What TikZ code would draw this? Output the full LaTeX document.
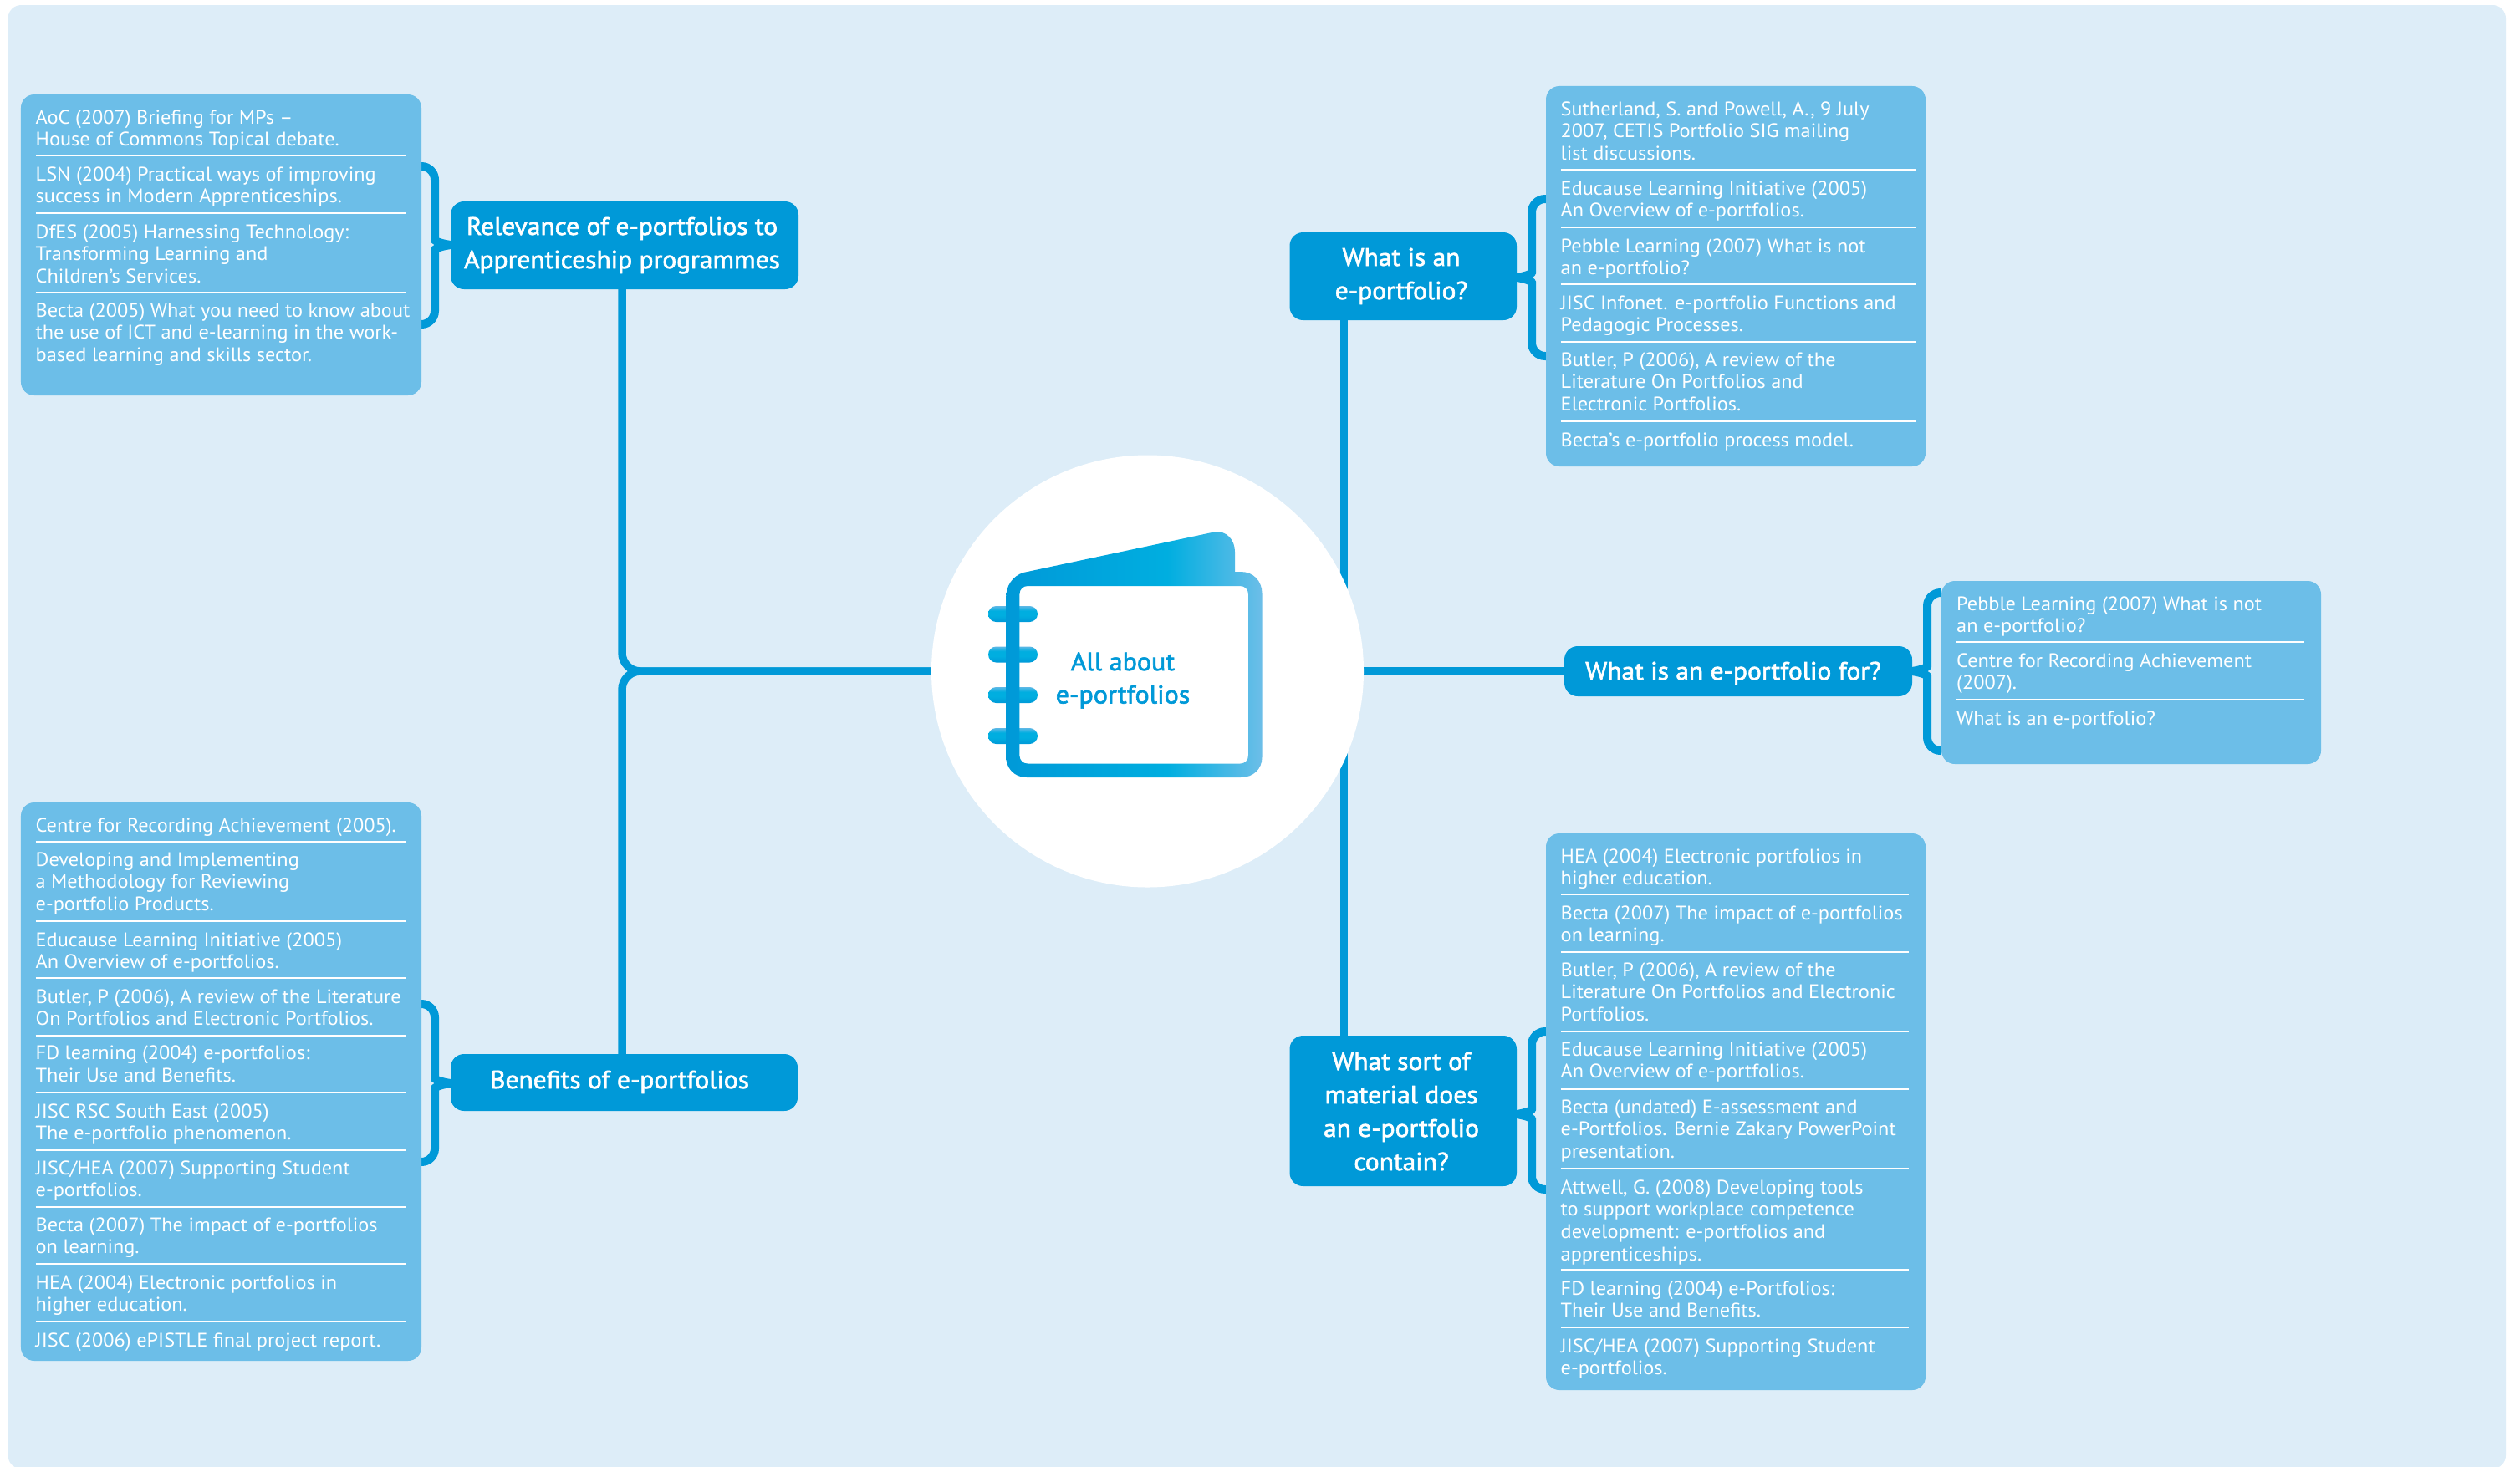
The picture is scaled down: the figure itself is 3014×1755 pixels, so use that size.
\documentclass[tikz,border=0pt]{standalone}
\usepackage{fontspec}
\setmainfont{PT Sans}[FakeStretch=1.035]
\newfontfamily\titlefont{PT Sans}[FakeStretch=1.05,FakeBold=2]
\usetikzlibrary{backgrounds}
\definecolor{pagebg}{HTML}{DDEDF8}
\definecolor{refblue}{HTML}{6CBEE8}
\definecolor{mainblue}{HTML}{0099D8}
\definecolor{midblue}{HTML}{00AEE0}
\definecolor{ringlight}{HTML}{5CB8E6}
\pgfdeclarehorizontalshading{bookshade}{100bp}{color(0bp)=(mainblue);color(25bp)=(mainblue);color(56.5bp)=(midblue);color(75bp)=(refblue);color(100bp)=(refblue)}
\pgfdeclareverticalshading{ringshade}{100bp}{color(0bp)=(mainblue);color(25bp)=(mainblue);color(45bp)=(midblue);color(60bp)=(midblue);color(75bp)=(ringlight);color(100bp)=(ringlight)}
\pgfdeclarelayer{pagelayer}
\pgfdeclarelayer{connlayer}
\pgfsetlayers{pagelayer,connlayer,main}
\tikzset{
  refbox/.style={rectangle,rounded corners=16bp,fill=refblue,inner sep=0pt},
  titlebox/.style={rectangle,rounded corners=16bp,fill=mainblue,inner sep=0pt},
  entry/.style={anchor=base west,inner sep=0pt,text=white,font=\fontsize{23.5bp}{26.9bp}\selectfont},
  titletext/.style={anchor=base,inner sep=0pt,text=white,font=\titlefont\fontsize{30bp}{40bp}\selectfont},
  booktext/.style={anchor=base,inner sep=0pt,text=mainblue,font=\titlefont\fontsize{30.5bp}{39.5bp}\selectfont},
  sepline/.style={draw=white,line width=2bp},
  trunk/.style={draw=mainblue,line width=9.5bp,rounded corners=22bp},
  brace/.style={draw=mainblue,line width=10bp,line cap=butt,rounded corners=16bp},
  ring/.style={shading=ringshade,rounded corners=9.5bp}
}
\newcommand{\ent}[4]{\node[entry] (#1) at (#2,#3) {\begin{tabular}[t]{@{}l@{}}#4\end{tabular}};}
\newcommand{\ttl}[4]{\node[titletext] (#1) at (#2,#3) {\begin{tabular}[t]{@{}c@{}}#4\end{tabular}};}
% ref anchor, title anchor, vertical x, top y, bottom y, meeting y
\newcommand{\bracket}[6]{%
  \draw[brace] (#1 |- 0,#4) -| (#3,#6-22) .. controls (#3,#6-6) and (#3,#6-3) .. (#2 |- 0,#6);
  \draw[brace] (#1 |- 0,#5) -| (#3,#6+22) .. controls (#3,#6+6) and (#3,#6+3) .. (#2 |- 0,#6);
}
\begin{document}
\begin{tikzpicture}[x=1bp,y=-1bp]
\useasboundingbox (0,0) rectangle (3014,1755);
\begin{pgfonlayer}{pagelayer}
  \fill[white] (0,0) rectangle (3014,1755);
  \fill[pagebg,rounded corners=16bp] (9.5,6) rectangle (2997,1757);
\end{pgfonlayer}

% hub
\node[circle,fill=white,inner sep=0pt,minimum size=517bp] (hub) at (1372.5,803) {};

% title boxes
\node[titlebox,minimum width=416bp,minimum height=105bp] (tA) at (747,293.5) {};
\node[titlebox,minimum width=415bp,minimum height=68bp] (tB) at (746.5,1295) {};
\node[titlebox,minimum width=271.5bp,minimum height=105bp] (tC) at (1678.25,330.5) {};
\node[titlebox,minimum width=416bp,minimum height=60bp] (tD) at (2079,803) {};
\node[titlebox,minimum width=271.5bp,minimum height=180bp] (tF) at (1678.25,1329) {};

% reference boxes
\node[refbox,minimum width=479bp,minimum height=360bp] (rA) at (264.5,293) {};
\node[refbox,minimum width=479bp,minimum height=668bp] (rB) at (264.5,1294) {};
\node[refbox,minimum width=454bp,minimum height=455bp] (rC) at (2076,330.5) {};
\node[refbox,minimum width=454bp,minimum height=219bp] (rD) at (2549,804.5) {};
\node[refbox,minimum width=454bp,minimum height=666bp] (rE) at (2076,1330) {};

% connectors
\begin{pgfonlayer}{connlayer}
  \draw[trunk] ([xshift=-3bp]tA.south) |- (hub.west);
  \draw[trunk] ([xshift=-2.5bp]tB.north) |- (hub.west);
  \draw[trunk] ([xshift=-71bp]tC.south) -- ([xshift=-71bp]tF.north);
  \draw[trunk] (hub.east) -- (tD.west);
  \bracket{rA.east}{tA.west}{520}{199}{388}{293}
  \bracket{rB.east}{tB.west}{520}{1201}{1390}{1296}
  \bracket{rC.west}{tC.east}{1832}{238}{426}{332}
  \bracket{rD.west}{tD.east}{2305}{709}{898}{803}
  \bracket{rE.west}{tF.east}{1832}{1234}{1423}{1333}
\end{pgfonlayer}

% book icon
\foreach \ry/\rn in {725/ringa,773.5/ringb,822/ringc,871/ringd}
  \shade[ring] (1182,\ry) rectangle (1241,\ry+19);
\shade[shading=bookshade,even odd rule]
  (1203,716) .. controls (1203,701) and (1211,689) .. (1224,685)
  -- (1452,636.5) .. controls (1467,634) and (1477,646) .. (1477,660)
  -- (1477,684) -- (1484,684) .. controls (1499,684) and (1509.5,695) .. (1509.5,710)
  -- (1509.5,906) .. controls (1509.5,920) and (1499,930) .. (1484,930)
  -- (1228,930) .. controls (1212,930) and (1203,918) .. (1203,904) -- cycle
  (1229.4,701) -- (1483,701) .. controls (1489,701) and (1493,705) .. (1493,711)
  -- (1493,903.6) .. controls (1493,909.6) and (1489,913.6) .. (1483,913.6)
  -- (1229.4,913.6) .. controls (1223.4,913.6) and (1219.4,909.6) .. (1219.4,903.6)
  -- (1219.4,711) .. controls (1219.4,705) and (1223.4,701) .. (1229.4,701) -- cycle;
\node[booktext] (hubtext) at (1343,802) {\begin{tabular}[t]{@{}c@{}}All about\\e-portfolios\end{tabular}};

% title text
\ttl{tAt}{744}{281}{Relevance of e-portfolios to\\Apprenticeship programmes}
\ttl{tBt}{741}{1302}{Benefits of e-portfolios}
\ttl{tCt}{1676}{318}{What is an\\e-portfolio?}
\ttl{tDt}{2073}{813}{What is an e-portfolio for?}
\ttl{tFt}{1676}{1280}{What sort of\\material does\\an e-portfolio\\contain?}

% box A
\ent{a1}{42.5}{148}{AoC (2007) Briefing for MPs –\\House of Commons Topical debate.}
\draw[sepline] (42.5,186) -- (485,186);
\ent{a2}{42.5}{216}{LSN (2004) Practical ways of improving\\success in Modern Apprenticeships.}
\draw[sepline] (42.5,255) -- (485,255);
\ent{a3}{42.5}{285}{DfES (2005) Harnessing Technology:\\Transforming Learning and\\Children’s Services.}
\draw[sepline] (42.5,350) -- (485,350);
\ent{a4}{42.5}{379}{Becta (2005) What you need to know about\\the use of ICT and e-learning in the work-\\based learning and skills sector.}

% box B
\ent{b1}{42.5}{995}{Centre for Recording Achievement (2005).}
\draw[sepline] (42.5,1007) -- (485,1007);
\ent{b2}{42.5}{1036}{Developing and Implementing\\a Methodology for Reviewing\\e-portfolio Products.}
\draw[sepline] (42.5,1102) -- (485,1102);
\ent{b3}{42.5}{1132}{Educause Learning Initiative (2005)\\An Overview of e-portfolios.}
\draw[sepline] (42.5,1170) -- (485,1170);
\ent{b4}{42.5}{1200}{Butler, P (2006), A review of the Literature\\On Portfolios and Electronic Portfolios.}
\draw[sepline] (42.5,1239) -- (485,1239);
\ent{b5}{42.5}{1267.5}{FD learning (2004) e-portfolios:\\Their Use and Benefits.}
\draw[sepline] (42.5,1307) -- (485,1307);
\ent{b6}{42.5}{1337}{JISC RSC South East (2005)\\The e-portfolio phenomenon.}
\draw[sepline] (42.5,1376) -- (485,1376);
\ent{b7}{42.5}{1405}{JISC/HEA (2007) Supporting Student\\e-portfolios.}
\draw[sepline] (42.5,1444) -- (485,1444);
\ent{b8}{42.5}{1473}{Becta (2007) The impact of e-portfolios\\on learning.}
\draw[sepline] (42.5,1512) -- (485,1512);
\ent{b9}{42.5}{1542}{HEA (2004) Electronic portfolios in\\higher education.}
\draw[sepline] (42.5,1581) -- (485,1581);
\ent{b10}{42.5}{1611}{JISC (2006) ePISTLE final project report.}

% box C
\ent{c1}{1866.5}{138}{Sutherland, S. and Powell, A., 9 July\\2007, CETIS Portfolio SIG mailing\\list discussions.}
\draw[sepline] (1866.5,203) -- (2291,203);
\ent{c2}{1866.5}{233}{Educause Learning Initiative (2005)\\An Overview of e-portfolios.}
\draw[sepline] (1866.5,272) -- (2291,272);
\ent{c3}{1866.5}{302}{Pebble Learning (2007) What is not\\an e-portfolio?}
\draw[sepline] (1866.5,340) -- (2291,340);
\ent{c4}{1866.5}{370}{JISC Infonet. e-portfolio Functions and\\Pedagogic Processes.}
\draw[sepline] (1866.5,409) -- (2291,409);
\ent{c5}{1866.5}{438}{Butler, P (2006), A review of the\\Literature On Portfolios and\\Electronic Portfolios.}
\draw[sepline] (1866.5,504) -- (2291,504);
\ent{c6}{1866.5}{534}{Becta’s e-portfolio process model.}

% box D
\ent{d1}{2340}{730}{Pebble Learning (2007) What is not\\an e-portfolio?}
\draw[sepline] (2340,768) -- (2756,768);
\ent{d2}{2340}{798}{Centre for Recording Achievement\\(2007).}
\draw[sepline] (2340,837) -- (2756,837);
\ent{d3}{2340}{867}{What is an e-portfolio?}

% box E
\ent{e1}{1866.5}{1032}{HEA (2004) Electronic portfolios in\\higher education.}
\draw[sepline] (1866.5,1070) -- (2283,1070);
\ent{e2}{1866.5}{1100}{Becta (2007) The impact of e-portfolios\\on learning.}
\draw[sepline] (1866.5,1139) -- (2283,1139);
\ent{e3}{1866.5}{1168}{Butler, P (2006), A review of the\\Literature On Portfolios and Electronic\\Portfolios.}
\draw[sepline] (1866.5,1234) -- (2283,1234);
\ent{e4}{1866.5}{1263}{Educause Learning Initiative (2005)\\An Overview of e-portfolios.}
\draw[sepline] (1866.5,1303) -- (2283,1303);
\ent{e5}{1866.5}{1332}{Becta (undated) E-assessment and\\e-Portfolios. Bernie Zakary PowerPoint\\presentation.}
\draw[sepline] (1866.5,1398) -- (2283,1398);
\ent{e6}{1866.5}{1428}{Attwell, G. (2008) Developing tools\\to support workplace competence\\development: e-portfolios and\\apprenticeships.}
\draw[sepline] (1866.5,1519) -- (2283,1519);
\ent{e7}{1866.5}{1549}{FD learning (2004) e-Portfolios:\\Their Use and Benefits.}
\draw[sepline] (1866.5,1588) -- (2283,1588);
\ent{e8}{1866.5}{1618}{JISC/HEA (2007) Supporting Student\\e-portfolios.}
\end{tikzpicture}
\end{document}
